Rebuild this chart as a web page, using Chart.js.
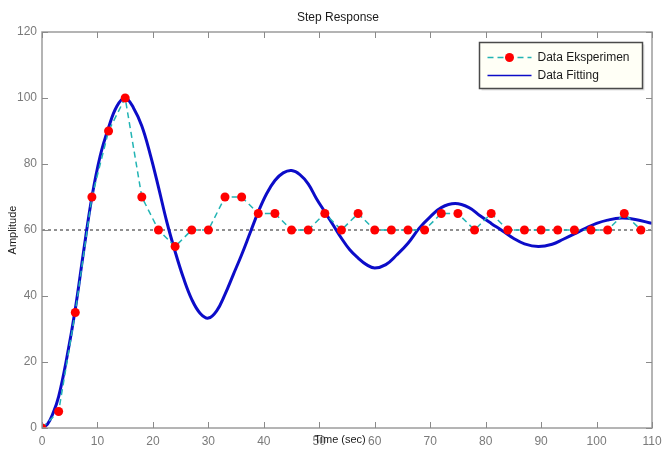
<!DOCTYPE html>
<html>
<head>
<meta charset="utf-8">
<title>Step Response</title>
<script src="https://cdn.jsdelivr.net/npm/chart.js@4.4.0/dist/chart.umd.min.js"></script>
<style>
    html, body { margin: 0; padding: 0; background: #fff; }
    #wrap { width: 662px; height: 453px; }
</style>
</head>
<body>
<div id="wrap"><canvas id="stepChart" width="662" height="453"></canvas></div>
<script>
// --- dados ---
const expTime = [0, 3, 6, 9, 12, 15, 18, 21, 24, 27, 30, 33, 36, 39, 42, 45, 48, 51, 54,
    57, 60, 63, 66, 69, 72, 75, 78, 81, 84, 87, 90, 93, 96, 99, 102, 105, 108];
const expAmp = [0, 5, 35, 70, 90, 100, 70, 60, 55, 60, 60, 70, 70, 65, 65, 60, 60, 65, 60,
    65, 60, 60, 60, 60, 65, 65, 60, 65, 60, 60, 60, 60, 60, 60, 60, 65, 60];

const fitTime = [0, 1, 2, 3, 4.5, 6, 7.5, 9, 10.5, 12, 13.5, 15, 16.5, 18, 19.5, 21, 22.5, 24,
    25.5, 27, 28.5, 30, 31.5, 33, 34.5, 36, 37.5, 39, 40.5, 42, 43.5, 45, 46.5, 48, 49.5, 51,
    52.5, 54, 55.5, 57, 58.5, 60, 62, 64, 66, 68, 70, 72, 74.5, 77, 79, 81, 83, 85, 87, 89.5,
    92, 94, 96, 98, 100, 102, 104.5, 107, 110];
const fitAmp = [0, 1.2, 4.5, 9.5, 21.5, 36, 53.5, 70, 82.5, 91, 97.5, 100, 97, 91.5, 83, 73, 62.5, 53.5,
    45.5, 39, 34.8, 33.3, 35.5, 40.5, 46.5, 52.5, 59, 65.5, 71, 75, 77.3, 78, 76.8, 74, 69.5, 65.5,
    61.5, 57.5, 54, 51.5, 49.5, 48.5, 49.5, 52.5, 56, 60.5, 64, 66.8, 68, 66.8, 64.3, 62, 59.8, 57.5, 55.8, 55,
    55.7, 57.2, 58.8, 60.5, 62, 63, 63.6, 63.2, 62];

const setPoint = 60;
const xTicks = [0, 10, 20, 30, 40, 50, 60, 70, 80, 90, 100, 110];
const yTicks = [0, 20, 40, 60, 80, 100, 120];

const toXY = (xs, ys) => xs.map((x, i) => ({ x: x, y: ys[i] }));
const FONT = '"Liberation Sans", Arial, sans-serif';

// moldura, ticks internos, legenda e textos no estilo do MATLAB
const matlabAxes = {
    id: 'matlabAxes',
    afterDraw(chart) {
        const { ctx, chartArea: a, scales: { x, y } } = chart;
        ctx.save();

        // caixa dos eixos
        ctx.strokeStyle = '#9c9c9c';
        ctx.lineWidth = 1.5;
        ctx.strokeRect(a.left, a.top, a.width, a.height);

        ctx.lineWidth = 1;
        ctx.strokeStyle = '#8a8a8a';
        ctx.beginPath();
        xTicks.forEach(v => {
            const px = Math.round(x.getPixelForValue(v)) + 0.5;
            ctx.moveTo(px, a.bottom); ctx.lineTo(px, a.bottom - 6);
            ctx.moveTo(px, a.top); ctx.lineTo(px, a.top + 6);
        });
        yTicks.forEach(v => {
            const py = Math.round(y.getPixelForValue(v)) + 0.5;
            ctx.moveTo(a.left, py); ctx.lineTo(a.left + 6, py);
            ctx.moveTo(a.right, py); ctx.lineTo(a.right - 6, py);
        });
        ctx.stroke();

        // textos
        ctx.fillStyle = '#1a1a1a';
        ctx.textAlign = 'center';
        ctx.textBaseline = 'middle';
        ctx.font = '12px ' + FONT;
        ctx.fillText('Step Response', 338, 18);
        ctx.font = '11px ' + FONT;
        ctx.fillText('Time (sec)', 340, 440);

        ctx.save();
        ctx.translate(13, 230);
        ctx.rotate(-Math.PI / 2);
        ctx.fillText('Amplitude', 0, 0);
        ctx.restore();

        // legenda
        const lx = 479.5, ly = 42.5, lw = 163, lh = 46;
        ctx.fillStyle = 'rgba(0,0,0,0.12)';
        ctx.fillRect(lx + 2, ly + 2, lw, lh);
        ctx.fillStyle = '#fffff6';
        ctx.fillRect(lx, ly, lw, lh);
        ctx.strokeStyle = '#4a4a4a';
        ctx.lineWidth = 1.5;
        ctx.strokeRect(lx, ly, lw, lh);

        ctx.font = '12px ' + FONT;
        const items = chart.data.datasets.filter(d => d.label);
        items.forEach((d, i) => {
            const yy = ly + 15 + i * 18;
            ctx.strokeStyle = d.borderColor;
            ctx.lineWidth = 1.5;
            ctx.setLineDash(d.borderDash || []);
            ctx.beginPath();
            ctx.moveTo(lx + 8, yy);
            ctx.lineTo(lx + 52, yy);
            ctx.stroke();
            ctx.setLineDash([]);
            if (d.pointRadius > 0) {
                ctx.fillStyle = d.pointBackgroundColor;
                ctx.beginPath();
                ctx.arc(lx + 30, yy, d.pointRadius, 0, Math.PI * 2);
                ctx.fill();
            }
            ctx.fillStyle = '#1a1a1a';
            ctx.textAlign = 'left';
            ctx.fillText(d.label, lx + 58, yy);
        });

        ctx.restore();
    }
};

new Chart(document.getElementById('stepChart'), {
    type: 'scatter',
    data: {
        datasets: [
            {
                label: 'Data Eksperimen',
                data: toXY(expTime, expAmp),
                showLine: true,
                borderColor: '#22b4b4',
                borderWidth: 1.5,
                borderDash: [6, 4],
                pointRadius: 4.5,
                pointBackgroundColor: '#ff0000',
                pointBorderColor: '#ff0000',
                pointBorderWidth: 0
            },
            {
                label: 'Data Fitting',
                data: toXY(fitTime, fitAmp),
                showLine: true,
                borderColor: '#0c0cc8',
                borderWidth: 3,
                tension: 0.4,
                pointRadius: 0
            },
            {
                label: '',
                data: [{ x: 0, y: setPoint }, { x: 110, y: setPoint }],
                showLine: true,
                borderColor: '#222',
                borderWidth: 1,
                borderDash: [3, 3],
                pointRadius: 0
            }
        ]
    },
    options: {
        responsive: false,
        animation: false,
        layout: { padding: { top: 32, right: 10, left: 0, bottom: 0 } },
        plugins: {
            legend: { display: false },
            tooltip: { enabled: false }
        },
        scales: {
            x: {
                type: 'linear',
                min: 0,
                max: 110,
                // altura fixa e sem folga extra para o último rótulo
                afterFit: s => { s.height = 25; s.paddingLeft = 0; s.paddingRight = 0; },
                afterBuildTicks: s => { s.ticks = xTicks.map(v => ({ value: v })); },
                grid: { display: false, drawTicks: false },
                border: { display: false },
                ticks: {
                    padding: 6,
                    color: '#7a7a7a',
                    font: { family: FONT, size: 12 }
                }
            },
            y: {
                min: 0,
                max: 120,
                afterFit: s => { s.width = 42; s.paddingTop = 0; s.paddingBottom = 0; },
                afterBuildTicks: s => { s.ticks = yTicks.map(v => ({ value: v })); },
                grid: { display: false, drawTicks: false },
                border: { display: false },
                ticks: {
                    padding: 5,
                    color: '#7a7a7a',
                    font: { family: FONT, size: 12 }
                }
            }
        }
    },
    plugins: [matlabAxes]
});
</script>
</body>
</html>
